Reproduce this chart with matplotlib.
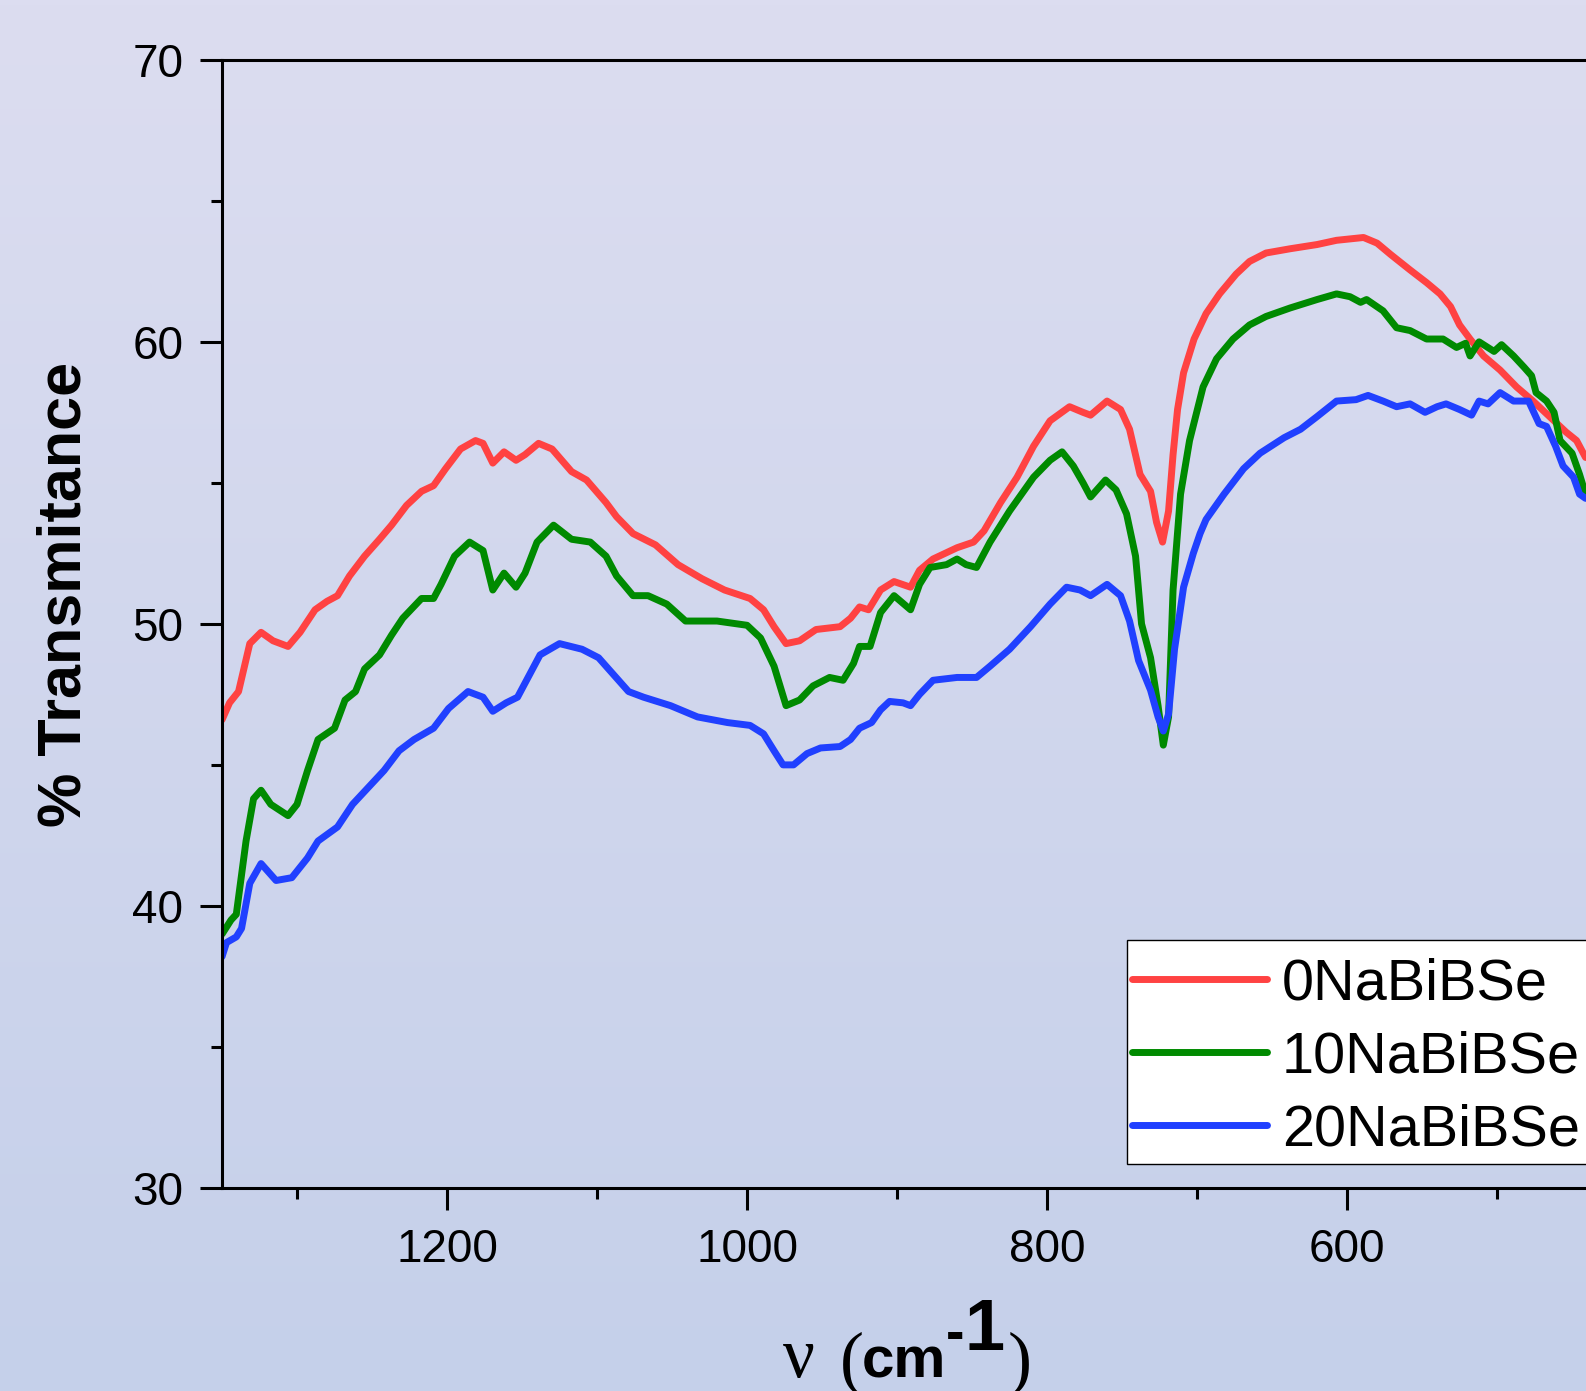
import numpy as np
import matplotlib
matplotlib.use("Agg")
import matplotlib.pyplot as plt
from matplotlib.colors import LinearSegmentedColormap
from matplotlib.font_manager import FontProperties
from matplotlib.patches import Rectangle

plt.rcParams['font.family'] = ['Liberation Sans', 'DejaVu Sans']

# FTIR spectra (wavenumber in cm-1, % transmittance)
labels = ["0NaBiBSe", "10NaBiBSe", "20NaBiBSe"]
colors = ["#FF4242", "#008A00", "#2040FF"]

wn_0 = [1350, 1345, 1339, 1331.5, 1324, 1316, 1306, 1298, 1288, 1280, 1273, 1265, 1255,
        1245, 1237, 1227, 1217, 1209, 1201, 1191, 1181, 1176, 1169.5, 1162, 1154, 1148,
        1139, 1130, 1117, 1107, 1094, 1087, 1076, 1061, 1046, 1030, 1015, 998, 989, 982,
        974, 965, 954, 938, 931, 925, 919, 911, 902, 891, 885, 876, 860, 849, 842, 831,
        820, 809, 798, 785, 776, 771, 760, 751, 745, 738, 731, 727, 723, 719, 716, 713,
        709, 702, 694, 685, 674, 665, 654, 638, 620, 607, 589, 580, 571, 558, 547, 538,
        531, 525, 518, 509, 498, 487, 476, 465, 454, 447, 441]
tr_0 = [46.6, 47.2, 47.6, 49.3, 49.7, 49.4, 49.2, 49.7, 50.5, 50.8, 51.0, 51.7, 52.4,
        53.0, 53.5, 54.2, 54.7, 54.9, 55.5, 56.2, 56.5, 56.4, 55.7, 56.1, 55.8, 56.0,
        56.4, 56.2, 55.4, 55.1, 54.3, 53.8, 53.2, 52.8, 52.1, 51.6, 51.2, 50.9, 50.5, 49.9,
        49.3, 49.4, 49.8, 49.9, 50.2, 50.6, 50.5, 51.2, 51.5, 51.3, 51.9, 52.3, 52.7, 52.9,
        53.3, 54.3, 55.2, 56.3, 57.2, 57.7, 57.5, 57.4, 57.9, 57.6, 56.9, 55.3, 54.7, 53.6,
        52.9, 54.0, 56.0, 57.6, 58.9, 60.1, 61.0, 61.7, 62.4, 62.85, 63.15, 63.3, 63.45,
        63.6, 63.7, 63.5, 63.1, 62.55, 62.1, 61.7, 61.25, 60.6, 60.1, 59.5, 59.0, 58.4,
        57.9, 57.35, 56.8, 56.5, 55.9]

wn_10 = [1350, 1344, 1340.5, 1334, 1329, 1324, 1317.5, 1306, 1300, 1293, 1286, 1275, 1268,
         1261, 1255, 1245, 1237, 1229.5, 1217, 1209, 1204, 1195, 1185, 1176, 1169.5, 1162,
         1154, 1148, 1140, 1129, 1117, 1104.5, 1094, 1087, 1076, 1066, 1053.5, 1041, 1033,
         1020, 1000, 991, 982, 974, 965, 956, 945, 936, 929, 925, 918, 911, 902, 891, 885,
         878, 867, 860, 854, 847, 838, 825, 809, 798, 790, 782.5, 776, 771, 761, 754, 747,
         741, 737, 731, 726, 722.5, 719, 716, 711, 705, 696, 687, 676, 665, 654, 638, 620,
         607, 598, 591, 587, 576, 567, 558, 547, 536, 527, 521, 518, 512, 502, 497, 489,
         482, 477, 474, 467, 462, 458, 450, 445, 441]
tr_10 = [39.0, 39.5, 39.7, 42.3, 43.8, 44.1, 43.6, 43.2, 43.6, 44.8, 45.9, 46.3, 47.3,
         47.6, 48.4, 48.9, 49.6, 50.2, 50.9, 50.9, 51.4, 52.4, 52.9, 52.6, 51.2, 51.8,
         51.3, 51.8, 52.9, 53.5, 53.0, 52.9, 52.4, 51.7, 51.0, 51.0, 50.7, 50.1, 50.1,
         50.1, 49.95, 49.5, 48.5, 47.1, 47.3, 47.8, 48.1, 48.0, 48.6, 49.2, 49.2, 50.4,
         51.0, 50.5, 51.4, 52.0, 52.1, 52.3, 52.1, 52.0, 52.9, 54.0, 55.2, 55.8, 56.1,
         55.6, 55.0, 54.5, 55.1, 54.75, 53.9, 52.4, 50.0, 48.8, 47.1, 45.7, 46.7, 51.2,
         54.6, 56.5, 58.4, 59.4, 60.1, 60.6, 60.9, 61.2, 61.5, 61.7, 61.6, 61.4, 61.5,
         61.1, 60.5, 60.4, 60.1, 60.1, 59.8, 59.95, 59.5, 60.0, 59.66, 59.9, 59.5, 59.1,
         58.8, 58.2, 57.9, 57.5, 56.5, 56.05, 55.3, 54.6]

wn_20 = [1350, 1347, 1340.5, 1337, 1331.5, 1324, 1314, 1303.5, 1293, 1286, 1273, 1263,
         1252.5, 1242, 1232, 1222, 1209, 1199, 1186, 1176, 1169.5, 1160.6, 1153, 1145,
         1138, 1125, 1110, 1099, 1089, 1079, 1069, 1051, 1033, 1013, 998, 989, 982, 976,
         969, 960, 951, 938, 931, 925, 917, 911, 905, 896, 891, 885, 876, 860, 847, 838,
         825, 811, 798, 787, 778, 771, 760, 751, 745, 739, 731, 726, 722.5, 719, 715, 709,
         702.5, 698, 694, 682, 669, 658, 642, 631, 620, 607, 594, 586, 576, 567, 558, 548,
         540, 534, 525, 517, 512, 506, 498, 489, 479, 472, 467, 461, 456, 449, 445, 441]
tr_20 = [38.2, 38.7, 38.9, 39.2, 40.8, 41.5, 40.9, 41.0, 41.7, 42.3, 42.8, 43.6, 44.2,
         44.8, 45.5, 45.9, 46.3, 47.0, 47.6, 47.4, 46.9, 47.2, 47.4, 48.2, 48.9, 49.3,
         49.1, 48.8, 48.2, 47.6, 47.4, 47.1, 46.7, 46.5, 46.4, 46.1, 45.5, 45.0, 45.0,
         45.4, 45.6, 45.65, 45.9, 46.3, 46.5, 46.95, 47.25, 47.2, 47.1, 47.5, 48.0, 48.1,
         48.1, 48.5, 49.1, 49.9, 50.7, 51.3, 51.2, 51.0, 51.4, 51.0, 50.1, 48.7, 47.65,
         46.7, 46.2, 46.8, 49.1, 51.3, 52.5, 53.2, 53.7, 54.6, 55.5, 56.05, 56.6, 56.9,
         57.35, 57.9, 57.95, 58.1, 57.9, 57.7, 57.8, 57.5, 57.7, 57.8, 57.6, 57.4, 57.9,
         57.8, 58.2, 57.9, 57.9, 57.1, 57.0, 56.3, 55.6, 55.2, 54.6, 54.45]

series = [(wn_0, tr_0), (wn_10, tr_10), (wn_20, tr_20)]

major_x = [1200, 1000, 800, 600]
minor_x = [1300, 1100, 900, 700, 500]

W, H = 1586, 1391
fig = plt.figure(figsize=(W / 100, H / 100), dpi=100)

# soft lavender-to-blue background
bg = fig.add_axes([0, 0, 1, 1], zorder=-10)
cmap = LinearSegmentedColormap.from_list("bg", ["#DCDDF0", "#C5D0EA"])
bg.imshow(np.linspace(0, 1, 256).reshape(-1, 1), aspect="auto", cmap=cmap,
          extent=[0, 1, 0, 1])
bg.axis("off")

ax = fig.add_axes([0.140, 0.146, 0.8985, 0.811])
ax.set_facecolor("none")

for (x, y), c, lab in zip(series, colors, labels):
    ax.plot(x, y, color=c, lw=5, label=lab, solid_capstyle="round",
            solid_joinstyle="round")

ax.set_xlim(1350, 400)
ax.set_ylim(30, 70)
ax.set_xticks(major_x)
ax.set_xticks(minor_x, minor=True)
ax.set_yticks([30, 40, 50, 60, 70])
ax.set_yticks([35, 45, 55, 65], minor=True)

for s in ax.spines.values():
    s.set_linewidth(2.2)
ax.tick_params(which="major", direction="out", length=16, width=2.2,
               labelsize=33, pad=12)
ax.tick_params(which="minor", direction="out", length=8, width=2.2)
ax.tick_params(axis="x", which="major", pad=13)

fig.text(65 / W, 1 - 594 / H, "% Transmitance", rotation=90,
         ha="center", va="center", fontsize=44, fontweight="bold")

# x label built piece by piece: serif nu and brackets, bold sans cm^-1
serif = "Liberation Serif"
pieces = [("ν", 783, 1377, serif, "normal", 51),
          ("(", 840, 1382, serif, "normal", 52),
          ("cm", 862, 1378, "Liberation Sans", "bold", 42),
          ("-", 946, 1350, "Liberation Sans", "bold", 40),
          ("1", 964, 1350, "Liberation Sans", "bold", 52),
          (")", 1008, 1382, serif, "normal", 52)]
for txt, px, py, fam, wt, fs in pieces:
    fig.text(px / W, 1 - py / H, txt, ha="left", va="baseline",
             family=fam, fontweight=wt, fontsize=fs)

# legend box runs past the right edge, as in the original
box = Rectangle((1127 / W, 1 - 1164 / H), 0.5, 224 / H, transform=fig.transFigure,
                facecolor="white", edgecolor="black", lw=1.0, zorder=4,
                clip_on=False)
ax.add_patch(box)

leg = ax.legend(loc="upper left", bbox_to_anchor=(1132 / W, 1 - 957 / H),
                bbox_transform=fig.transFigure,
                prop=FontProperties(family="Liberation Sans", size=41.5),
                frameon=False, handlelength=2.35, handletextpad=0.25,
                labelspacing=0.33, borderpad=0, borderaxespad=0)
leg.set_zorder(5)

fig.savefig("out.png", dpi=100)
